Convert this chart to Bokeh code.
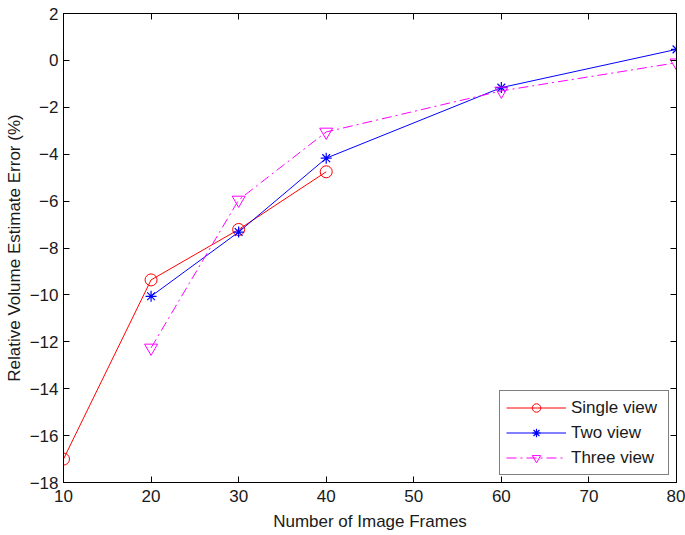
from bokeh.plotting import figure
from bokeh.models import LinearAxis, FixedTicker, Range1d, CustomJSTickFormatter
from bokeh.embed import file_html
from bokeh.resources import INLINE

# Data
single_x = [10, 20, 30, 40]
single_y = [-17.0, -9.36, -7.21, -4.75]
two_x = [20, 30, 40, 60, 80]
two_y = [-10.06, -7.32, -4.17, -1.16, 0.47]
three_x = [20, 30, 40, 60, 80]
three_y = [-12.26, -5.95, -3.05, -1.3, -0.1]

x_ticks = [10, 20, 30, 40, 50, 60, 70, 80]
y_ticks = [2, 0, -2, -4, -6, -8, -10, -12, -14, -16, -18]

FONT = "Liberation Sans"
FS = "17px"

p = figure(width=685, height=535, output_backend="svg", toolbar_location=None,
           x_range=Range1d(10, 80), y_range=Range1d(-18, 2),
           min_border_left=63, min_border_right=9, min_border_top=13, min_border_bottom=53)
p.xgrid.visible = False
p.ygrid.visible = False
p.outline_line_color = "black"
p.outline_line_width = 1
p.background_fill_color = "white"
p.border_fill_color = "white"

def style_axis(ax, ticks, labels=True):
    ax.ticker = FixedTicker(ticks=ticks)
    ax.major_tick_in = 6
    ax.major_tick_out = 0
    ax.minor_tick_line_color = None
    ax.axis_line_color = "black"
    ax.major_tick_line_color = "black"
    ax.major_label_text_font = FONT
    ax.major_label_text_font_size = FS
    ax.major_label_text_color = "#1a1a1a"
    ax.major_label_standoff = 4
    ax.axis_label_text_font = FONT
    ax.axis_label_text_font_size = FS
    ax.axis_label_text_font_style = "normal"
    ax.axis_label_text_color = "#1a1a1a"
    if not labels:
        ax.formatter = CustomJSTickFormatter(code="return '';")
        ax.major_label_standoff = 0

style_axis(p.xaxis[0], x_ticks)
style_axis(p.yaxis[0], y_ticks)
p.xaxis[0].axis_label = "Number of Image Frames"
p.yaxis[0].axis_label = "Relative Volume Estimate Error (%)"
p.xaxis[0].major_label_standoff = 7
p.xaxis[0].axis_label_standoff = 7
p.yaxis[0].major_label_standoff = 5
p.yaxis[0].axis_label_standoff = 3

right_ax = LinearAxis()
style_axis(right_ax, y_ticks, labels=False)
p.add_layout(right_ax, "right")
top_ax = LinearAxis()
style_axis(top_ax, x_ticks, labels=False)
p.add_layout(top_ax, "above")

p.line(single_x, single_y, line_color="red", line_width=1, legend_label="Single view")
p.scatter(single_x, single_y, marker="circle", size=12, fill_color=None, line_color="red",
          line_width=1, legend_label="Single view")

p.line(two_x, two_y, line_color="blue", line_width=1, legend_label="Two view")
p.scatter(two_x, two_y, marker="asterisk", size=11, line_color="blue", line_width=1.2,
          legend_label="Two view")

p.line(three_x, three_y, line_color="magenta", line_width=1, line_dash="10 4 2 4",
       legend_label="Three view")
p.scatter(three_x, three_y, marker="inverted_triangle", size=13, fill_color=None,
          line_color="magenta", line_width=1, legend_label="Three view")

lg = p.legend[0]
lg.location = "bottom_right"
lg.margin = 7
lg.padding = 6
lg.spacing = 4
lg.glyph_width = 60
lg.glyph_height = 21
lg.label_standoff = 5
lg.label_width = 91
lg.label_text_font = FONT
lg.label_text_font_size = FS
lg.label_text_color = "#1a1a1a"
lg.border_line_color = "black"
lg.border_line_width = 1
lg.background_fill_color = "white"
lg.background_fill_alpha = 1

open("out.html", "w").write(file_html(p, INLINE))
